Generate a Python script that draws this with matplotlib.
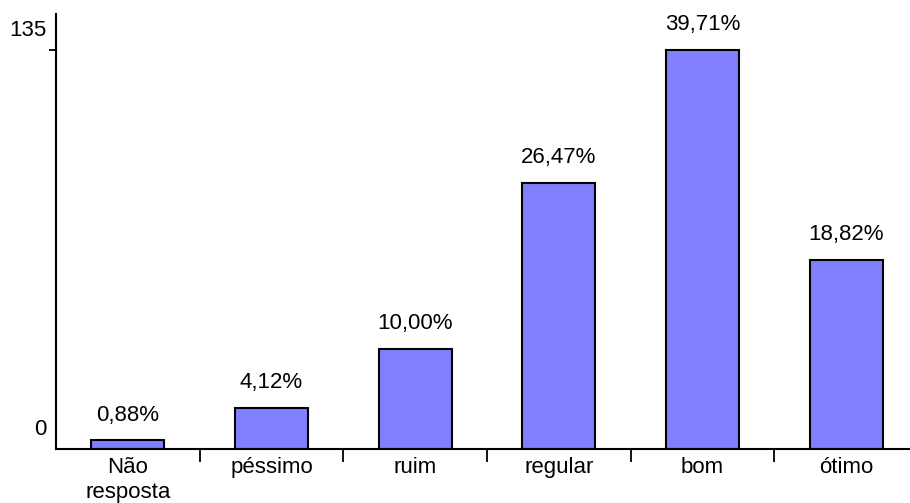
import matplotlib.pyplot as plt
import matplotlib.transforms as mtransforms

categories = ["Não\nresposta", "péssimo", "ruim", "regular", "bom", "ótimo"]
counts = [3, 14, 34, 90, 135, 64]
pct_labels = ["0,88%", "4,12%", "10,00%", "26,47%", "39,71%", "18,82%"]

plt.rcParams['font.family'] = ['Liberation Sans', 'DejaVu Sans']

fig = plt.figure(figsize=(9.1, 5.03), dpi=100)
W, H = 910, 503
# axes box in pixels: left 56, bottom at y=449, top at y=14, six categories of ~144 px
ax = fig.add_axes([56 / W, (H - 449) / H, 862 / W, (449 - 14) / H])

x = list(range(len(categories)))
bars = ax.bar(x, counts, width=0.51, color="#8080FF", edgecolor="black", linewidth=1.5)

for b, lab in zip(bars, pct_labels):
    ax.annotate(lab, (b.get_x() + b.get_width() / 2, b.get_height()),
                xytext=(0, 10.5), textcoords="offset points",
                ha="center", va="bottom", fontsize=16)

ax.set_xlim(-0.5, len(categories) - 0.5)
ax.set_ylim(0, 147.2)

# category labels centred, tick marks between categories
ax.set_xticks(x)
ax.set_xticklabels(categories, fontsize=16, linespacing=1.25)
ax.tick_params(axis="x", which="major", length=0, pad=6)
ax.set_xticks([i + 0.5 for i in x[:-1]], minor=True)
ax.tick_params(axis="x", which="minor", direction="out", length=9.5, width=1.3)

ax.set_yticks([0, 135])
ax.set_yticklabels(["0", "135"], fontsize=16)
ax.tick_params(axis="y", direction="out", length=5, width=1.3, pad=1.5)
ax.yaxis.get_major_ticks()[0].tick1line.set_visible(False)
shift = mtransforms.ScaledTranslation(0, 22 / 100, fig.dpi_scale_trans)
for lbl in ax.get_yticklabels():
    lbl.set_transform(lbl.get_transform() + shift)

for s in ["top", "right"]:
    ax.spines[s].set_visible(False)
ax.spines["left"].set_linewidth(1.5)
ax.spines["bottom"].set_linewidth(1.5)

fig.savefig("out.png", dpi=100)
